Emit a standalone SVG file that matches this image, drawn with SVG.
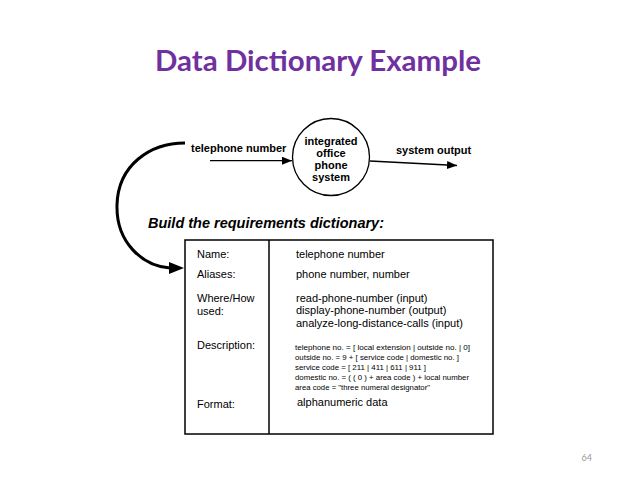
<svg xmlns="http://www.w3.org/2000/svg" width="638" height="479" viewBox="0 0 638 479">
<style>
.b{font-family:"Liberation Sans",Arial,sans-serif;font-weight:bold;font-size:11px;fill:#000}
.r{font-family:"Liberation Sans",Arial,sans-serif;font-size:11px;fill:#000}
.s{font-family:"Liberation Sans",Arial,sans-serif;font-size:8px;fill:#000}
.ln{stroke:#000;stroke-width:1.3;fill:none}
</style>
<defs>
<marker id="ah" markerWidth="10" markerHeight="8" refX="10" refY="4" orient="auto" markerUnits="userSpaceOnUse"><path d="M0,0 L10,4 L0,8 Z" fill="#000"/></marker>
</defs>
<rect width="638" height="479" fill="#fff"/>
<text x="318" y="71" text-anchor="middle" font-family="Lato,'Open Sans',sans-serif" font-weight="bold" font-size="28" fill="#7030a0" textLength="326" lengthAdjust="spacingAndGlyphs">Data Dictionary Example</text>

<g id="connectors">
<line x1="210" y1="160.7" x2="292" y2="160.7" class="ln" marker-end="url(#ah)"/>
<line x1="370" y1="161" x2="457" y2="165.5" class="ln" marker-end="url(#ah)"/>
<path d="M185,143 C150,143 118,165 117,205 C116,242 142,266 170,268 L172,268" fill="none" stroke="#000" stroke-width="3"/>
<path d="M169,262 L184,268 L169,274 Z" fill="#000"/>
</g>

<g id="input-label"><text x="191" y="152" class="b">telephone number</text></g>
<g id="process">
<circle cx="331" cy="157" r="38.5" fill="#fff" stroke="#000" stroke-width="1.3"/>
<text x="331" y="145" class="b" text-anchor="middle">integrated</text>
<text x="331" y="157" class="b" text-anchor="middle">office</text>
<text x="331" y="169" class="b" text-anchor="middle">phone</text>
<text x="331" y="181" class="b" text-anchor="middle">system</text>
</g>
<g id="output-label"><text x="396" y="154" class="b">system output</text></g>

<text x="148" y="228" font-family="Liberation Sans,Arial,sans-serif" font-weight="bold" font-style="italic" font-size="14" textLength="236" lengthAdjust="spacingAndGlyphs">Build the requirements dictionary:</text>

<g id="dictionary">
<rect x="185" y="240" width="308" height="194" fill="#fff" stroke="#000" stroke-width="1.5"/>
<line x1="269" y1="240" x2="269" y2="434" stroke="#000" stroke-width="1.5"/>
<text x="197" y="258" class="r">Name:</text>
<text x="197" y="278" class="r">Aliases:</text>
<text x="197" y="302" class="r">Where/How</text>
<text x="197" y="315" class="r">used:</text>
<text x="197" y="349" class="r">Description:</text>
<text x="197" y="408" class="r">Format:</text>
<text x="296" y="258" class="r">telephone number</text>
<text x="296" y="278" class="r">phone number, number</text>
<text x="296" y="302" class="r">read-phone-number (input)</text>
<text x="296" y="314" class="r">display-phone-number (output)</text>
<text x="296" y="327" class="r">analyze-long-distance-calls (input)</text>
<text x="295" y="350" class="s" textLength="175" lengthAdjust="spacingAndGlyphs">telephone no. = [ local extension | outside no. | 0]</text>
<text x="295" y="360" class="s" textLength="164" lengthAdjust="spacingAndGlyphs">outside no. = 9 + [ service code | domestic no. ]</text>
<text x="295" y="370" class="s" textLength="131" lengthAdjust="spacingAndGlyphs">service code = [ 211 | 411 | 611 | 911 ]</text>
<text x="295" y="380" class="s" textLength="174" lengthAdjust="spacingAndGlyphs">domestic no. = ( ( 0 ) + area code ) + local number</text>
<text x="295" y="390" class="s" textLength="135" lengthAdjust="spacingAndGlyphs">area code = "three numeral designator"</text>
<text x="297" y="406" class="r">alphanumeric data</text>
</g>

<text x="592" y="461" text-anchor="end" font-family="Lato,'Open Sans',sans-serif" font-size="9" fill="#999">64</text>
</svg>
